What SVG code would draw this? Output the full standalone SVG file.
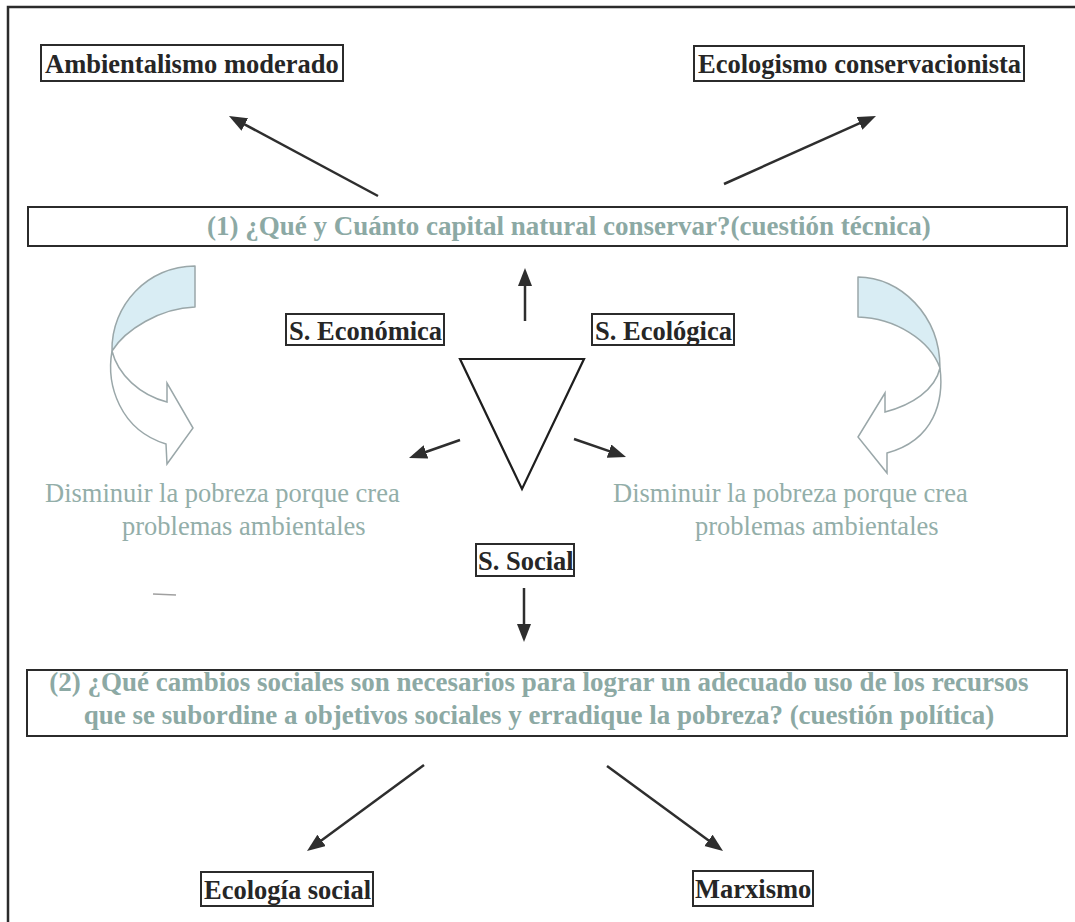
<svg xmlns="http://www.w3.org/2000/svg" width="1075" height="922" viewBox="0 0 1075 922">
  <style>
    .frame { fill: none; stroke: #2b2b2b; stroke-width: 2.5; }
    .lbl-box { fill: #ffffff; stroke: #2b2b2b; stroke-width: 2; }
    .lbl { font-family: "Liberation Serif", "Times New Roman", serif; font-weight: bold; font-size: 26.5px; fill: #262626; }
    .q-box { fill: #ffffff; stroke: #2b2b2b; stroke-width: 2; }
    .q { font-family: "Liberation Serif", "Times New Roman", serif; font-weight: bold; font-size: 27px; fill: #8ca9a4; }
    .note { font-family: "Liberation Serif", "Times New Roman", serif; font-size: 26.5px; fill: #93aea9; }
    .conn { stroke: #2e2e2e; stroke-width: 2.5; fill: none; marker-end: url(#head); }
    .curl-back { fill: #d9edf4; stroke: #9aa7a9; stroke-width: 1.5; stroke-linejoin: round; }
    .curl-front { fill: #ffffff; stroke: #9aa7a9; stroke-width: 1.5; stroke-linejoin: miter; }
    .tri { fill: #ffffff; stroke: #1e1e1e; stroke-width: 2.2; stroke-linejoin: miter; }
  </style>
  <defs>
    <marker id="head" markerUnits="userSpaceOnUse" markerWidth="20" markerHeight="16" refX="4" refY="7" orient="auto">
      <path d="M0,0 L18,7 L0,14 Z" fill="#2e2e2e"/>
    </marker>
  </defs>

  <rect width="1075" height="922" fill="#ffffff"/>
  <!-- page frame: left and top edges -->
  <path class="frame" d="M8,922 L8,7 L1075,7"/>

  <!-- top outcomes -->
  <g id="ambientalismo">
    <rect class="lbl-box" x="41" y="45" width="302" height="36"/>
    <text class="lbl" x="45" y="73">Ambientalismo moderado</text>
  </g>
  <g id="ecologismo">
    <rect class="lbl-box" x="694" y="46" width="330" height="35"/>
    <text class="lbl" x="698" y="73">Ecologismo conservacionista</text>
  </g>

  <!-- question 1 -->
  <g id="cuestion-tecnica">
    <rect class="q-box" x="28" y="207" width="1039" height="39"/>
    <text class="q" x="207" y="235">(1) ¿Qué y Cuánto capital natural conservar?(cuestión técnica)</text>
  </g>

  <!-- sustainability dimensions -->
  <g id="s-economica">
    <rect class="lbl-box" x="286" y="314" width="158" height="31"/>
    <text class="lbl" x="289" y="340">S. Económica</text>
  </g>
  <g id="s-ecologica">
    <rect class="lbl-box" x="592" y="314" width="142" height="31"/>
    <text class="lbl" x="595" y="340">S. Ecológica</text>
  </g>
  <g id="triangulo">
    <polygon class="tri" points="460,359 584,359 522,489"/>
  </g>
  <g id="s-social">
    <rect class="lbl-box" x="476" y="544" width="98" height="32"/>
    <text class="lbl" x="478" y="570">S. Social</text>
  </g>

  <!-- curved arrows -->
  <g id="curva-izquierda">
    <path class="curl-back" d="M195,266 C148,266 111,305 112,351 C125,330 160,308 195,307 Z"/>
    <path class="curl-front" d="M112,351 C106,385 120,430 166,444 L167,464 L193,428 L167,383 L167,402 C140,395 118,375 112,351 Z"/>
  </g>
  <g id="curva-derecha">
    <path class="curl-back" d="M858,277 C900,277 940,315 940,368 C930,340 895,318 858,317 Z"/>
    <path class="curl-front" d="M940,368 C944,400 935,440 887,453 L887,473 L858,437 L885,393 L885,412 C912,405 935,390 940,368 Z"/>
  </g>

  <!-- poverty notes -->
  <g id="pobreza-izquierda">
    <text class="note" x="45" y="502">Disminuir la pobreza porque crea</text>
    <text class="note" x="122" y="535">problemas ambientales</text>
  </g>
  <g id="pobreza-derecha">
    <text class="note" x="613" y="502">Disminuir la pobreza porque crea</text>
    <text class="note" x="695" y="535">problemas ambientales</text>
  </g>

  <!-- question 2 -->
  <g id="cuestion-politica">
    <rect class="q-box" x="27" y="670" width="1040" height="66"/>
    <text class="q" x="539" y="691" text-anchor="middle">(2) ¿Qué cambios sociales son necesarios para lograr un adecuado uso de los recursos</text>
    <text class="q" x="539" y="724" text-anchor="middle">que se subordine a objetivos sociales y erradique la pobreza? (cuestión política)</text>
  </g>

  <!-- bottom outcomes -->
  <g id="ecologia-social">
    <rect class="lbl-box" x="201" y="872" width="172" height="34"/>
    <text class="lbl" x="204" y="899">Ecología social</text>
  </g>
  <g id="marxismo">
    <rect class="lbl-box" x="693" y="871" width="120" height="35"/>
    <text class="lbl" x="695" y="898">Marxismo</text>
  </g>

  <!-- small stray mark -->
  <path d="M153,594 L176,595" stroke="#a0a0a0" stroke-width="1.5" fill="none"/>

  <!-- connectors -->
  <g id="conectores">
    <line class="conn" x1="378" y1="196" x2="241.3" y2="122.6"/>
    <line class="conn" x1="724" y1="184" x2="863.2" y2="121.7"/>
    <line class="conn" x1="525" y1="321" x2="525" y2="282"/>
    <line class="conn" x1="460" y1="440" x2="422.2" y2="453.3"/>
    <line class="conn" x1="574" y1="439" x2="612.8" y2="452.4"/>
    <line class="conn" x1="524" y1="588" x2="524" y2="628"/>
    <line class="conn" x1="424" y1="765" x2="318.3" y2="842.7"/>
    <line class="conn" x1="607" y1="766" x2="711.7" y2="842.7"/>
  </g>
</svg>
